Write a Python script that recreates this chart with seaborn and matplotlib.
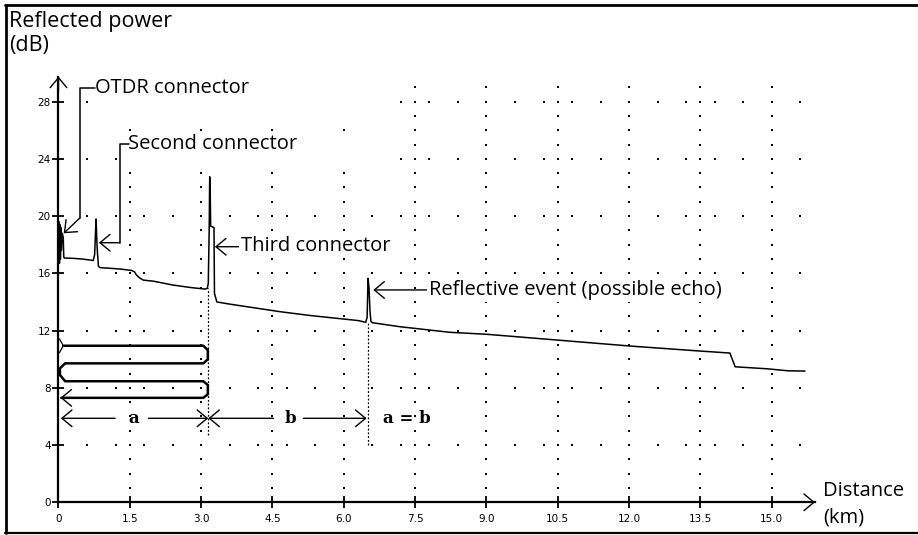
import numpy as np
import pandas as pd
import matplotlib
matplotlib.use("Agg")
import matplotlib.pyplot as plt
import seaborn as sns
from matplotlib.lines import Line2D

sns.set_theme(style="white")
plt.rcParams['font.family'] = ['Open Sans', 'DejaVu Sans']
plt.rcParams['text.color'] = 'black'

# ---------------- data ----------------
trace_km = [0.00, 0.01, 0.02, 0.03, 0.04, 0.05, 0.06, 0.08, 0.10, 0.11, 0.12, 0.30, 0.50, 0.73,
            0.76, 0.78, 0.79, 0.80, 0.81, 0.82, 0.84, 0.87, 1.10, 1.30, 1.54, 1.60, 1.64, 1.70,
            1.78, 2.00, 2.41, 2.80, 3.08, 3.13, 3.15, 3.17, 3.18, 3.19, 3.20, 3.27, 3.28, 3.33,
            3.60, 4.00, 4.66, 5.30, 5.99, 6.30, 6.46, 6.49, 6.51, 6.53, 6.55, 6.57, 6.60, 7.18,
            8.23, 9.01, 10.48, 12.02, 13.49, 14.12, 14.23, 14.90, 15.34, 15.70]
trace_db = [18.5, 19.6, 16.7, 19.4, 17.0, 19.2, 17.6, 18.8, 18.5, 17.2, 17.07, 17.05, 17.0, 16.9,
            17.3, 19.0, 19.8, 18.9, 18.0, 17.4, 16.5, 16.4, 16.35, 16.3, 16.2, 16.1, 15.88, 15.7,
            15.53, 15.45, 15.18, 15.0, 14.9, 14.95, 15.3, 19.3, 22.75, 21.8, 19.3, 19.2, 14.6, 14.0,
            13.85, 13.65, 13.32, 13.05, 12.81, 12.7, 12.58, 12.9, 15.65, 15.0, 13.4, 12.65, 12.55, 12.27,
            11.88, 11.74, 11.34, 10.92, 10.57, 10.43, 9.47, 9.33, 9.19, 9.17]

x_ticks = [0, 1.5, 3.0, 4.5, 6.0, 7.5, 9.0, 10.5, 12.0, 13.5, 15.0]
x_tick_labels = ["0", "1.5", "3.0", "4.5", "6.0", "7.5", "9.0", "10.5", "12.0", "13.5", "15.0"]
y_ticks = [0, 4, 8, 12, 16, 20, 24, 28]
y_tick_labels = ["0", "4", "8", "12", "16", "20", "24", "28"]

event_labels = ["OTDR connector", "Second connector", "Third connector",
                "Reflective event (possible echo)"]
event_text_pos = [(0.76, 28.95), (1.47, 25.04), (3.83, 17.91), (7.80, 14.84)]
event_arrow_tip = [(0.11, 18.8), (0.85, 18.14), (3.29, 17.86), (6.62, 14.84)]

third_km, echo_km = 3.15, 6.50
dim_y = 5.87

# ---------------- figure / axes ----------------
W, H = 918, 535
fig = plt.figure(figsize=(W / 100, H / 100), dpi=100)
X0, Y0 = 58.5, 502.3
PX_KM, PX_DB = 47.55, 14.31
XMAX, YMAX = 15.91, 29.75
ax = fig.add_axes([X0 / W, (H - Y0) / H, XMAX * PX_KM / W, YMAX * PX_DB / H])
ax.set_xlim(0, XMAX)
ax.set_ylim(0, YMAX)
ax.patch.set_alpha(0)

for s in ["top", "right"]:
    ax.spines[s].set_visible(False)
for s in ["left", "bottom"]:
    ax.spines[s].set_linewidth(1.6)
    ax.spines[s].set_color("black")
    ax.spines[s].set_zorder(6)

ax.set_xticks(x_ticks)
ax.set_xticklabels(x_tick_labels)
ax.set_yticks(y_ticks)
ax.set_yticklabels(y_tick_labels)
ax.tick_params(axis="both", direction="inout", length=9, width=1.3, colors="black",
               labelsize=7.5, bottom=True, left=True)
ax.tick_params(axis="x", pad=4)
ax.tick_params(axis="y", pad=1)
for lab in ax.get_xticklabels() + ax.get_yticklabels():
    lab.set_family("DejaVu Sans")

# axis arrow heads
arrow_kw = dict(arrowstyle="->,head_length=0.6,head_width=0.5", lw=1, color="black",
                shrinkA=0, shrinkB=0)
ax.annotate("", xy=(0, YMAX), xytext=(0, YMAX - 1), arrowprops=arrow_kw, annotation_clip=False)
ax.annotate("", xy=(XMAX, 0), xytext=(XMAX - 0.5, 0), arrowprops=arrow_kw, annotation_clip=False)

# ---------------- grid dots ----------------
masks = [(0.70, 7.10, 26.5, 30.5), (1.40, 7.10, 23.5, 25.6)]
gx, gy = [], []
for xc in x_ticks[1:]:
    for d in range(1, 30):
        gx.append(xc); gy.append(d)
for yr in y_ticks[1:]:
    for k in range(1, 27):
        gx.append(round(0.6 * k, 2)); gy.append(yr)
grid = pd.DataFrame({"km": gx, "db": gy})
keep = np.ones(len(grid), bool)
for (x1, x2, y1, y2) in masks:
    keep &= ~((grid.km > x1) & (grid.km < x2) & (grid.db > y1) & (grid.db < y2))
grid = grid[keep]
sns.scatterplot(data=grid, x="km", y="db", marker="s", s=2.2, color="black",
                linewidth=0, ax=ax, clip_on=False, zorder=2, legend=False)

# ---------------- trace ----------------
trace = pd.DataFrame({"km": trace_km, "db": trace_db})
sns.lineplot(data=trace, x="km", y="db", sort=False, estimator=None, color="black",
             lw=1.1, ax=ax, zorder=5)
ax.set_xlabel(""); ax.set_ylabel("")

# dotted event markers
ax.plot([third_km, third_km], [4.71, 15.0], color="black", lw=0.9, ls=(0, (1.5, 1.5)), zorder=3)
ax.plot([echo_km, echo_km], [4.0, 12.6], color="black", lw=0.9, ls=(0, (1.5, 1.5)), zorder=3)

# ---------------- fiber loop sketch ----------------
loop_km = [0.10, 3.045, 3.14, 3.14, 3.045, 0.14, 0.03, 0.03, 0.14, 3.045, 3.14, 3.14, 3.045, 0.06]
loop_db = [10.94, 10.94, 10.64, 9.99, 9.71, 9.71, 9.36, 8.90, 8.46, 8.46, 8.20, 7.55, 7.30, 7.30]
ax.plot(loop_km, loop_db, color="black", lw=1.8, solid_joinstyle="miter", zorder=4)
thin_kw = dict(arrowstyle="->,head_length=0.6,head_width=0.5", lw=1, color="black",
               shrinkA=0, shrinkB=0)
ax.annotate("", xy=(0.04, 7.30), xytext=(0.6, 7.30), arrowprops=thin_kw, zorder=4)
ax.plot([0.02, 0.10, 0.02], [11.42, 10.94, 10.46], color="black", lw=0.9, zorder=4)

# ---------------- dimension lines a / b ----------------
dim_kw = thin_kw
ax.annotate("", xy=(0.05, dim_y), xytext=(1.19, dim_y), arrowprops=dim_kw)
ax.annotate("", xy=(third_km, dim_y), xytext=(1.89, dim_y), arrowprops=dim_kw)
ax.annotate("", xy=(third_km, dim_y), xytext=(4.52, dim_y), arrowprops=dim_kw)
ax.annotate("", xy=(echo_km - 0.02, dim_y), xytext=(5.15, dim_y), arrowprops=dim_kw)
serif = dict(family="DejaVu Serif", weight="bold", fontsize=12, color="black",
             ha="center", va="center")
ax.text(1.59, dim_y, "a", **serif)
ax.text(4.87, dim_y, "b", **serif)
ax.text(7.32, dim_y, "a = b", **serif)

# ---------------- event labels with leaders ----------------
lab_kw = dict(fontsize=14.5, color="black", ha="left", va="center", zorder=7,
              bbox=dict(boxstyle="square,pad=0.1", fc="white", ec="none"))
for (tx, ty), lab in zip(event_text_pos, event_labels):
    ax.text(tx, ty, lab, **lab_kw)

ax.plot([0.76, 0.45, 0.45], [28.95, 28.95, 19.87], color="black", lw=1.1, clip_on=False, zorder=8)
ax.annotate("", xy=event_arrow_tip[0], xytext=(0.45, 19.87), arrowprops=dim_kw)
ax.plot([1.48, 1.29, 1.29], [25.02, 25.02, 18.14], color="black", lw=1.1, clip_on=False, zorder=8)
ax.annotate("", xy=event_arrow_tip[1], xytext=(1.29, 18.14), arrowprops=dim_kw)
ax.annotate("", xy=event_arrow_tip[2], xytext=(3.80, 17.86), arrowprops=dim_kw)
ax.annotate("", xy=event_arrow_tip[3], xytext=(7.79, 14.84), arrowprops=dim_kw)

# ---------------- axis titles ----------------
fig.text(9 / W, 1 - 21 / H, "Reflected power", fontsize=15.5, ha="left", va="center", color="black")
fig.text(9 / W, 1 - 45 / H, "(dB)", fontsize=15.5, ha="left", va="center", color="black")
fig.text(823 / W, 1 - 491 / H, "Distance", fontsize=14.5, ha="left", va="center", color="black")
fig.text(823 / W, 1 - 518 / H, "(km)", fontsize=14.5, ha="left", va="center", color="black")

# ---------------- frame ----------------
fig.add_artist(Line2D([5.5 / W, 5.5 / W], [1 - 4.5 / H, 1 - 532.5 / H], lw=2, color="black",
                      transform=fig.transFigure))
fig.add_artist(Line2D([4.5 / W, 1], [1 - 4.5 / H, 1 - 4.5 / H], lw=2, color="black",
                      transform=fig.transFigure))
fig.add_artist(Line2D([4.5 / W, 1], [1 - 532.5 / H, 1 - 532.5 / H], lw=1.6, color="black",
                      transform=fig.transFigure))

fig.savefig("out.png", dpi=100)
